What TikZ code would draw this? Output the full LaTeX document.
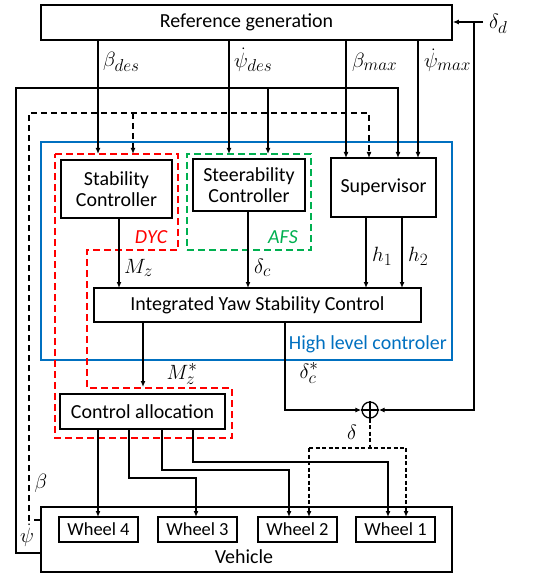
\documentclass[tikz,border=0pt]{standalone}
\usepackage{fontspec}
\setmainfont{Carlito}
\usetikzlibrary{arrows.meta}
\DeclareMathSizes{22}{22}{16.5}{12}
\definecolor{myred}{RGB}{255,0,0}
\definecolor{mygreen}{RGB}{0,176,80}
\definecolor{myblue}{RGB}{0,112,192}
\begin{document}
\begin{tikzpicture}[x=1bp,y=-1bp,
  box/.style={draw, line width=1.5bp, inner sep=0pt, align=center, font=\fontsize{20}{23}\selectfont},
  wheelbox/.style={draw, line width=1.5bp, inner sep=0pt, minimum width=79bp, minimum height=25bp, font=\fontsize{18.5}{21}\selectfont},
  ln/.style={line width=1.3bp},
  arr/.style={line width=1.3bp, -{Latex[length=6bp,width=5bp]}},
  bdash/.style={dash pattern=on 6bp off 4bp},
  sdash/.style={dash pattern=on 4bp off 2.5bp},
  lbl/.style={inner sep=0pt, font=\fontsize{22}{26}\selectfont},
  tlbl/.style={inner sep=0pt, font=\fontsize{20}{23}\selectfont},
]
\useasboundingbox (0,0) rectangle (533,574);

% main boxes
\node[box, minimum width=411bp, minimum height=35bp] (ref) at (246.5,22.5) {Reference generation};
\node[draw=myblue, line width=1.4bp, minimum width=411bp, minimum height=218bp, inner sep=0pt] (hlc) at (246.5,251) {};
\node[tlbl, anchor=east, text=myblue] (hlclbl) at (447,344) {High level controler};
\node[draw=mygreen, line width=1.5bp, dash pattern=on 7bp off 4bp, minimum width=124bp, minimum height=96bp, inner sep=0pt] (afs) at (249,202) {};
\draw[myred, line width=1.5bp, dash pattern=on 7bp off 4bp] (55,154) -- (178,154) -- (178,250) -- (87,250) -- (87,388) -- (232,388) -- (232,438) -- (55,438) -- cycle;
\node[box, minimum width=111bp, minimum height=58bp] (stab) at (116.5,189) {Stability\\[-2pt]Controller};
\node[box, minimum width=112bp, minimum height=52bp] (steer) at (249,185) {Steerability\\[-2pt]Controller};
\node[box, minimum width=105bp, minimum height=59bp] (sup) at (383.5,187.5) {Supervisor};
\node[box, minimum width=327bp, minimum height=34bp] (iysc) at (257.5,305) {Integrated Yaw Stability Control};
\node[box, minimum width=165bp, minimum height=35bp] (ca) at (142.5,411.5) {Control allocation};
\node[draw, line width=1.5bp, minimum width=411bp, minimum height=65bp, inner sep=0pt] (veh) at (246.5,539.5) {};
\node[tlbl] (vehlbl) at (244,557) {Vehicle};
\node[wheelbox] (w4) at (98.5,529.5) {Wheel 4};
\node[wheelbox] (w3) at (197.5,529.5) {Wheel 3};
\node[wheelbox] (w2) at (297.5,529.5) {Wheel 2};
\node[wheelbox] (w1) at (395.5,529.5) {Wheel 1};
\node[draw, circle, line width=1.3bp, minimum size=16bp, inner sep=0pt] (sum) at (370,410) {};
\draw[line width=1.3bp] (sum.north) -- (sum.south) (sum.west) -- (sum.east);

% coordinates
\coordinate (dd) at (483,22);
\coordinate (ddj) at (474,22);

% reference outputs
\draw[arr] (98,40) -- (98,154);
\draw[arr] (229,40) -- (229,154);
\draw[arr] (346,40) -- (346,158);
\draw[arr] (418,40) -- (418,158);
\node[lbl, anchor=west] (lbdes) at (103,62) {$\beta_{des}$};
\node[lbl, anchor=west] (lpdes) at (234,60) {$\dot\psi_{des}$};
\node[lbl, anchor=west] (lbmax) at (352,62) {$\beta_{max}$};
\node[lbl, anchor=west] (lpmax) at (424,60) {$\dot\psi_{max}$};

% delta_d
\draw[arr] (dd) -- (ref.east |- dd);
\draw[arr] (ddj) -- (474,410) -- (sum.east);
\node[lbl, anchor=west] (ldd) at (489,24) {$\delta_d$};

% psi-dot feedback (solid)
\draw[arr] (veh.west |- 0,553) -- (16,553) -- (16,88) -- (398,88) -- (398,158);
\draw[arr] (268,88) -- (268,154);
\node[lbl] (lpsi) at (27,535) {$\dot\psi$};

% beta feedback (dashed)
\draw[arr, bdash] (veh.west |- 0,520) -- (29,520) -- (29,113) -- (369,113) -- (369,158);
\draw[arr, bdash] (133,113) -- (133,154);
\node[lbl] (lbeta) at (41,483) {$\beta$};

% controller outputs
\draw[arr] (119,218) -- (119,288);
\draw[arr] (248,211) -- (248,288);
\draw[arr] (366,217) -- (366,288);
\draw[arr] (402,217) -- (402,288);
\node[lbl, anchor=west] (lmz) at (124,268) {$M_z$};
\node[lbl, anchor=west] (ldc) at (254,268) {$\delta_c$};
\node[lbl, anchor=west] (lh1) at (372,256) {$h_1$};
\node[lbl, anchor=west] (lh2) at (408,256) {$h_2$};
\node[tlbl, text=myred] (ldyc) at (151,237) {$\mathit{DYC}$};
\node[tlbl, text=mygreen] (lafs) at (283,237) {$\mathit{AFS}$};

% IYSC outputs
\draw[arr] (143,322) -- (143,387);
\draw[arr] (285,322) -- (285,410) -- (sum.west);
\node[lbl] (lmzs) at (182,374) {$M_z^*$};
\node[lbl] (ldcs) at (309,373) {$\delta_c^*$};

% delta to wheels
\draw[ln, sdash] (sum.south) -- (370,448);
\draw[ln, sdash] (309,448) -- (406,448);
\draw[arr, sdash] (309,448) -- (309,517);
\draw[arr, sdash] (406,448) -- (406,517);
\node[lbl] (ldelta) at (352,432) {$\delta$};

% control allocation to wheels
\draw[arr] (98,429) -- (98,517);
\draw[arr] (129,429) -- (129,478) -- (196,478) -- (196,517);
\draw[arr] (162,429) -- (162,470) -- (289,470) -- (289,517);
\draw[arr] (193,429) -- (193,462) -- (388,462) -- (388,517);
\end{tikzpicture}
\end{document}
